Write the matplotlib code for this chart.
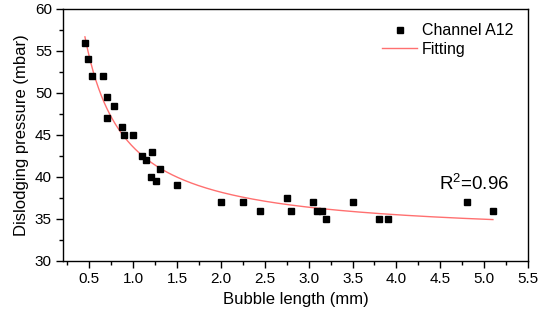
import numpy as np
import matplotlib
matplotlib.use("Agg")
import matplotlib.pyplot as plt
from matplotlib.ticker import MultipleLocator

plt.rcParams['font.family'] = ['Liberation Sans', 'DejaVu Sans']
plt.rcParams['mathtext.fontset'] = 'custom'
plt.rcParams['mathtext.rm'] = 'Liberation Sans'
plt.rcParams['mathtext.it'] = 'Liberation Sans'
plt.rcParams['mathtext.default'] = 'regular'

bubble_length = [0.45, 0.48, 0.53, 0.66, 0.70, 0.78, 0.70, 0.87, 0.90, 1.00,
                 1.10, 1.15, 1.22, 1.30, 1.20, 1.26, 1.50, 2.00, 2.25, 2.45,
                 2.75, 2.80, 3.05, 3.10, 3.15, 3.20, 3.50, 3.80, 3.90, 4.80, 5.10]
pressure = [56, 54, 52, 52, 49.5, 48.5, 47, 46, 45, 45,
            42.5, 42, 43, 41, 40, 39.5, 39, 37, 37, 36,
            37.5, 36, 37, 36, 36, 35, 37, 35, 35, 37, 36]

x = np.array(bubble_length)
y = np.array(pressure)
# least-squares fit y = a + b/x
b, a = np.polyfit(1.0 / x, y, 1)
xf = np.linspace(x.min(), x.max(), 300)
yf = a + b / xf

fig = plt.figure(figsize=(5.45, 3.26), dpi=100)
ax = fig.add_axes([0.1156, 0.1994, 0.8532, 0.773])

ax.plot(x, y, 's', color='black', ms=5, label='Channel A12', zorder=3)
ax.plot(xf, yf, '-', color='#ff7070', lw=1.0, label='Fitting', zorder=2)

ax.set_xlim(0.2, 5.5)
ax.set_ylim(30, 60)
ax.xaxis.set_minor_locator(MultipleLocator(0.25))
ax.yaxis.set_major_locator(MultipleLocator(5))
ax.yaxis.set_minor_locator(MultipleLocator(2.5))
ax.set_xticks(np.arange(0.5, 5.51, 0.5))
ax.tick_params(which='major', direction='out', length=5, width=1, labelsize=11, pad=3)
ax.tick_params(which='minor', direction='out', length=3, width=1)
for s in ax.spines.values():
    s.set_linewidth(1.0)

ax.set_xlabel('Bubble length (mm)', fontsize=12, labelpad=4)
ax.set_ylabel('Dislodging pressure (mbar)', fontsize=12, labelpad=4)

ax.text(4.49, 39.2, 'R$^2$=0.96', fontsize=13.5, ha='left', va='center')

ax.legend(loc='upper right', frameon=False, fontsize=11.5, handlelength=2.2,
          handletextpad=0.3, borderaxespad=0.0, borderpad=0.4, labelspacing=0.2,
          markerscale=0.75,
          bbox_to_anchor=(520 / 545, 1 - 17 / 326), bbox_transform=fig.transFigure)

fig.savefig('out.png', dpi=100)
